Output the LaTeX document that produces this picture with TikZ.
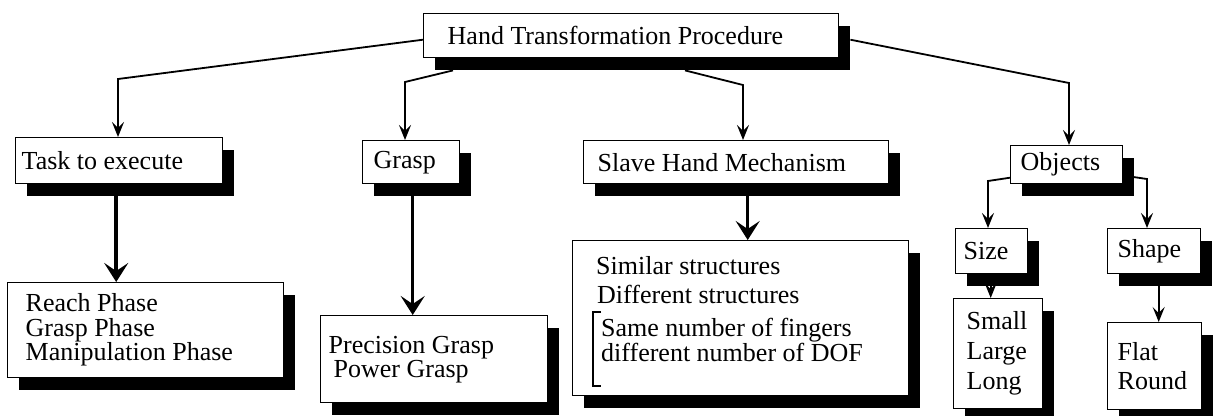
\documentclass[tikz,border=0pt]{standalone}
\usepackage{fontspec}
\setmainfont{Liberation Serif}
\usetikzlibrary{arrows.meta,shadows,calc}
\newcommand\lft[2]{\makebox[#1][l]{#2}}
\begin{document}
\begin{tikzpicture}[x=1bp,y=-1bp,
  box/.style={draw, fill=white, line width=1.4bp, anchor=north west, align=left,
    inner ysep=0pt, font=\fontsize{26bp}{25bp}\selectfont,
    drop shadow={shadow xshift=11bp, shadow yshift=-12bp, fill=black, opacity=1}},
  conn/.style={line width=1.8bp, -{Stealth[length=15bp,width=12bp,inset=6bp]}},
  bigconn/.style={line width=3.5bp, -{Stealth[length=19bp,width=24bp,inset=8bp]}},
  txt/.style={anchor=base west, inner sep=0pt, font=\fontsize{26bp}{25bp}\selectfont}
]
\fill[white] (0,0) rectangle (1217,415);
\useasboundingbox (0,0) rectangle (1217,415);

% first level
\node[box, minimum width=415bp, minimum height=44bp, inner xsep=24bp] (top) at (423,13) {\lft{367bp}{Hand Transformation Procedure}};
\node[box, minimum width=207bp, minimum height=46bp, inner xsep=6bp] (task) at (15,137) {\lft{195bp}{Task to execute}};
\node[box, minimum width=97bp, minimum height=43bp, inner xsep=11bp] (grasp) at (362,140) {\lft{75bp}{Grasp}};
\node[box, minimum width=305bp, minimum height=43bp, inner xsep=14bp] (slave) at (583,140) {\lft{277bp}{Slave Hand Mechanism}};
\node[box, minimum width=112bp, minimum height=38bp, inner xsep=10bp] (objects) at (1010,145) {\lft{92bp}{Objects}};
\node[box, minimum width=72bp, minimum height=45bp, inner xsep=8bp] (size) at (955,228) {\lft{56bp}{Size}};
\node[box, minimum width=93bp, minimum height=45bp, inner xsep=10bp] (shape) at (1107,228) {\lft{73bp}{Shape}};

% second level
\node[box, minimum width=276bp, minimum height=95bp, inner xsep=18bp, font=\fontsize{26bp}{24.5bp}\selectfont] (tasksub) at (7,282)
  {\lft{240bp}{Reach Phase}\\\lft{240bp}{Grasp Phase}\\\lft{240bp}{Manipulation Phase}};
\node[box, minimum width=227bp, minimum height=87bp, inner xsep=8bp, font=\fontsize{26bp}{24bp}\selectfont] (graspsub) at (320,315)
  {\lft{211bp}{Precision Grasp}\\\lft{211bp}{\hspace*{5bp}Power Grasp}};
\node[box, minimum width=336bp, minimum height=155bp] (slavesub) at (572,240) {};
\node[txt] (sim) at (596,274) {Similar structures};
\node[txt] (dif) at (597,303) {Different structures};
\node[txt] (same) at (601,336) {Same number of fingers};
\node[txt] (dof) at (601,361) {different number of DOF};
\coordinate (brt) at (593,312);
\coordinate (brb) at (593,386);
\draw[line width=1.4bp] ([xshift=8bp]brt) -- (brt) -- (brb) -- ([xshift=8bp]brb);
\node[box, minimum width=89bp, minimum height=110bp, inner xsep=13bp, font=\fontsize{26bp}{30bp}\selectfont] (small) at (953,298)
  {\lft{63bp}{Small}\\\lft{63bp}{Large}\\\lft{63bp}{Long}};
\node[box, minimum width=94bp, minimum height=87bp, inner xsep=10bp, font=\fontsize{26bp}{29bp}\selectfont] (flat) at (1107,322)
  {\lft{74bp}{Flat}\\\lft{74bp}{Round}};

% connectors from the top box
\coordinate (b1) at (118,79);
\draw[conn] ([yshift=-4bp]top.west) -- (b1) -- (b1 |- task.north);
\coordinate (s2) at ([xshift=30bp,yshift=-12bp]top.south west);
\coordinate (b2) at (405,82);
\draw[conn] (s2) -- (b2) -- (b2 |- grasp.north);
\coordinate (s3) at ([xshift=262bp,yshift=-12bp]top.south west);
\coordinate (b3) at (743,85);
\draw[conn] (s3) -- (b3) -- (b3 |- slave.north);
\coordinate (s4) at ([xshift=11bp,yshift=-4bp]top.east);
\coordinate (b4) at (1069,83);
\draw[conn] (s4) -- (b4) -- (b4 |- objects.north);

% thick connectors
\coordinate (t1) at ([xshift=-3bp,yshift=-12bp]task.south);
\draw[bigconn] (t1) -- (t1 |- tasksub.north);
\coordinate (g1) at ([xshift=1.5bp,yshift=-12bp]grasp.south);
\draw[bigconn] (g1) -- (g1 |- graspsub.north);
\coordinate (m1) at ([xshift=11.5bp,yshift=-12bp]slave.south);
\draw[bigconn] (m1) -- (m1 |- slavesub.north);

% objects branch
\coordinate (o1) at ([yshift=-13bp]objects.west);
\coordinate (b5) at (988,181);
\draw[conn] (o1) -- (b5) -- (b5 |- size.north);
\coordinate (o2) at ([xshift=8bp,yshift=-12bp]objects.east);
\coordinate (b6) at (1147,179);
\draw[conn] (o2) -- (b6) -- (b6 |- shape.north);
\coordinate (z1) at ([xshift=-1bp]size.south);
\draw[conn] (z1) -- (z1 |- small.north);
\coordinate (z2) at ([xshift=4.5bp]shape.south);
\draw[conn] (z2) -- (z2 |- flat.north);
\end{tikzpicture}
\end{document}
